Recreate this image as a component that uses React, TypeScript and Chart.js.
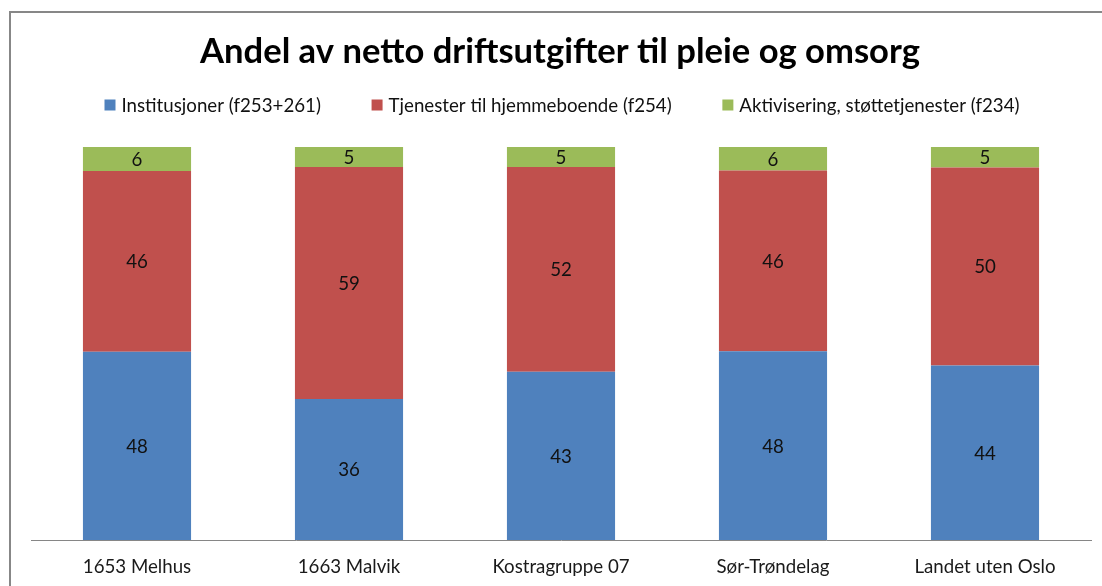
import React, { useEffect, useRef } from "react";
import { Chart, registerables } from "chart.js";

Chart.register(...registerables);

const TITLE = "Andel av netto driftsutgifter til pleie og omsorg";
const categories = ["1653 Melhus", "1663 Malvik", "Kostragruppe 07", "Sør-Trøndelag", "Landet uten Oslo"];
const seriesNames = [
  "Institusjoner (f253+261)",
  "Tjenester til hjemmeboende (f254)",
  "Aktivisering, støttetjenester (f234)",
];
const institusjoner = [47.9, 35.9, 42.8, 48.0, 44.4];
const hjemmeboende = [46.0, 59.0, 52.1, 46.0, 50.4];
const aktivisering = [6.1, 5.1, 5.1, 6.0, 5.2];
const colors = ["#4F81BD", "#C0504D", "#9BBB59"];

const FONT = "Lato, 'Open Sans', sans-serif";
const FS = 18.7;

const headerPlugin = {
  id: "header",
  afterDraw(chart: any) {
    const ctx = chart.ctx;
    ctx.save();
    ctx.fillStyle = "#000";
    ctx.font = `bold 34.6px ${FONT}`;
    ctx.textAlign = "center";
    ctx.textBaseline = "middle";
    ctx.fillText(TITLE, 560, 52);

    ctx.font = `${FS}px ${FONT}`;
    const box = 11;
    const gapBT = 6;
    const ds = chart.data.datasets;
    const textW = ds.map((d: any) => box + gapBT + ctx.measureText(d.label).width);
    const sumW = textW.reduce((a: number, b: number) => a + b, 0);
    const gapItems = Math.max(20, (915 - sumW) / (ds.length - 1));
    const total = sumW + gapItems * (ds.length - 1);
    let x = 562 - total / 2;
    const y = 105;
    ctx.textAlign = "left";
    ds.forEach((d: any, i: number) => {
      ctx.fillStyle = d.backgroundColor;
      ctx.fillRect(x, y - box / 2, box, box);
      ctx.fillStyle = "#111";
      ctx.fillText(d.label, x + box + gapBT, y + 1);
      x += textW[i] + gapItems;
    });
    ctx.restore();
  },
};

const labelPlugin = {
  id: "segLabels",
  afterDatasetsDraw(chart: any) {
    const ctx = chart.ctx;
    ctx.save();
    ctx.font = `${FS}px ${FONT}`;
    ctx.fillStyle = "#111";
    ctx.textAlign = "center";
    ctx.textBaseline = "middle";
    chart.data.datasets.forEach((d: any, di: number) => {
      const meta = chart.getDatasetMeta(di);
      meta.data.forEach((el: any, i: number) => {
        const v = d.data[i];
        ctx.fillText(String(Math.round(v)), el.x, (el.y + el.base) / 2 + 1);
      });
    });
    ctx.restore();
  },
};

export default function App() {
  const ref = useRef<HTMLCanvasElement>(null);
  useEffect(() => {
    if (!ref.current) return;
    const chart = new Chart(ref.current, {
      type: "bar",
      data: {
        labels: categories,
        datasets: [institusjoner, hjemmeboende, aktivisering].map((data, i) => ({
          label: seriesNames[i],
          data,
          backgroundColor: colors[i],
          borderWidth: 0,
          categoryPercentage: 1,
          barPercentage: 0.51,
        })),
      },
      options: {
        animation: false,
        responsive: false,
        maintainAspectRatio: false,
        layout: { padding: { top: 147, left: 31, right: 11, bottom: 0 } },
        plugins: {
          legend: { display: false },
          title: { display: false },
          tooltip: { enabled: false },
        },
        scales: {
          x: {
            stacked: true,
            grid: { display: false, drawTicks: false },
            border: { display: true, color: "#868686", width: 1 },
            ticks: { color: "#1a1a1a", font: { family: FONT, size: FS }, padding: 16, maxRotation: 0 },
            afterFit: (scale: any) => {
              scale.height = 46;
            },
          },
          y: {
            stacked: true,
            display: false,
            min: 0,
            max: 100,
          },
        },
      },
      plugins: [headerPlugin, labelPlugin],
    });
    return () => chart.destroy();
  }, []);

  return (
    <div style={{ position: "fixed", left: 0, top: 0, width: 1102, height: 586, overflow: "hidden", background: "#fff" }}>
      <div
        style={{
          position: "absolute",
          left: 9,
          top: 11,
          width: 1200,
          height: 700,
          border: "2px solid #878787",
          boxSizing: "border-box",
        }}
      />
      <canvas ref={ref} width={1102} height={586} style={{ position: "absolute", left: 0, top: 0 }} />
    </div>
  );
}
